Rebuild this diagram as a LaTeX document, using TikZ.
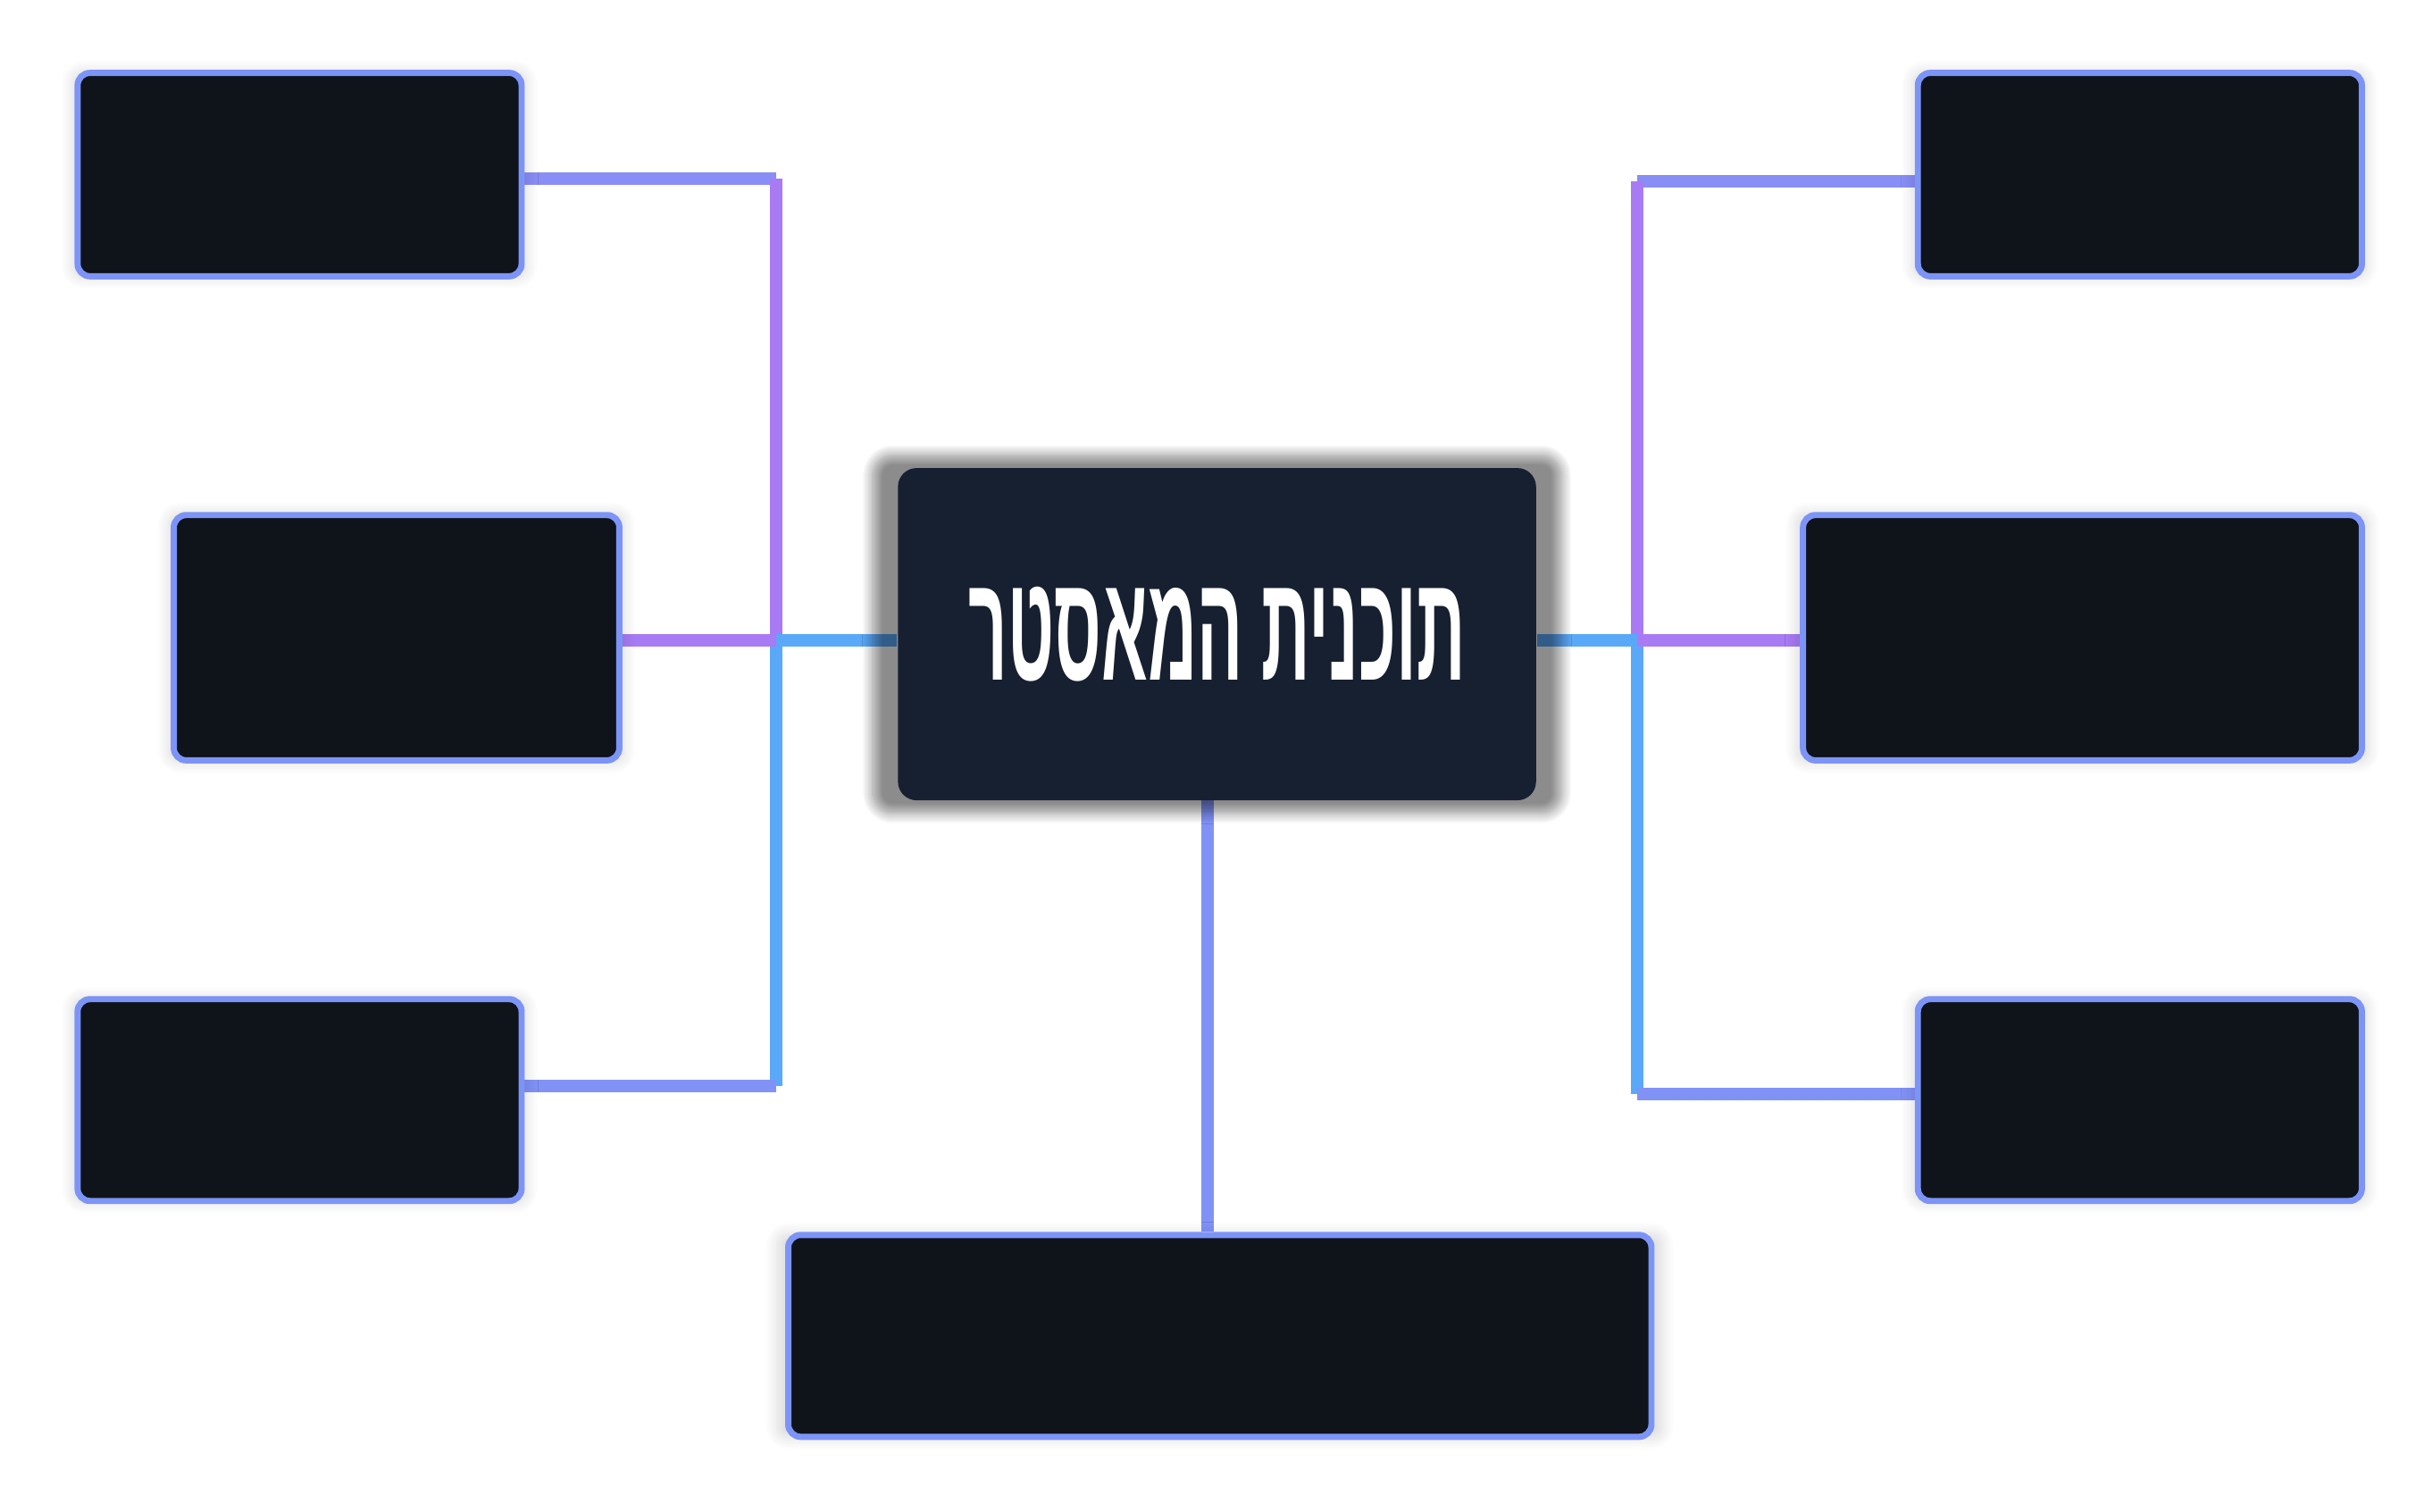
\documentclass[tikz,border=0pt]{standalone}
\usepackage{fontspec}
\usepackage{graphicx}
\usetikzlibrary{positioning,shadows.blur,backgrounds}
\TeXXeTstate=1
\newfontfamily\hebfont[Script=Hebrew]{Liberation Sans}
\definecolor{lilac}{HTML}{A87BF5}
\definecolor{sky}{HTML}{5AA8F8}
\definecolor{boxfill}{HTML}{0F131A}
\definecolor{hubfill}{HTML}{172030}
\newcommand{\wire}{0.08cm}

\begin{document}
\begin{tikzpicture}[x=0.01cm,y=-0.01cm,
    leaf/.style={draw=sky!55!lilac, line width=0.4mm, fill=boxfill, rounded corners=0.8mm, anchor=north west,
        blur shadow={shadow blur steps=8, shadow xshift=0pt, shadow yshift=0pt, shadow scale=1.03, shadow opacity=12}},
    hub/.style={fill=hubfill, rounded corners=1.2mm, anchor=north west,
        blur shadow={shadow blur steps=12, shadow xshift=0pt, shadow yshift=0pt, shadow scale=1.08, shadow opacity=45}},
    link/.style={line width=\wire}]
    \useasboundingbox (0,0) rectangle (1568,974);
    % leaves
    \node[leaf, minimum width=2.86cm, minimum height=1.31cm] (l1) at (48,45) {};
    \node[leaf, minimum width=2.87cm, minimum height=1.58cm] (l2) at (110,330) {};
    \node[leaf, minimum width=2.86cm, minimum height=1.30cm] (l3) at (48,642) {};
    \node[leaf, minimum width=2.86cm, minimum height=1.31cm] (r1) at (1234,45) {};
    \node[leaf, minimum width=3.60cm, minimum height=1.58cm] (r2) at (1160,330) {};
    \node[leaf, minimum width=2.86cm, minimum height=1.30cm] (r3) at (1234,642) {};
    \node[leaf, minimum width=5.56cm, minimum height=1.30cm] (bt) at (506,794) {};
    % hub
    \node[hub, minimum width=4.11cm, minimum height=2.14cm] (hb) at (578,301) {};
    \node[text=white] (ttl) at (hb.center) {\resizebox{3.2cm}{0.6cm}{\hebfont\bfseries\beginR תוכנית המאסטר\endR}};
    % wires
    \coordinate (ja) at (500,115);
    \coordinate (jb) at (500,413);
    \coordinate (jc) at (500,700);
    \coordinate (ka) at (1055,117);
    \coordinate (kb) at (1055,413);
    \coordinate (kc) at (1055,705);
    \coordinate (ma) at (778,515);
    \coordinate (mb) at (778,794);
    \begin{scope}[on background layer]
        \draw[link, sky!40!lilac] (l1.east |- ja) -- (ja);
        \draw[link, lilac] (ja) -- (jb);
        \draw[link, sky] (jb) -- (jc);
        \draw[link, sky!50!lilac] (jc) -- (l3.east |- jc);
        \draw[link, lilac] (l2.east |- jb) -- (jb);
        \draw[link, sky] (jb) -- (hb.west |- jb);
        \draw[link, sky!40!lilac] (r1.west |- ka) -- (ka);
        \draw[link, lilac] (ka) -- (kb);
        \draw[link, sky] (kb) -- (kc);
        \draw[link, sky!50!lilac] (kc) -- (r3.west |- kc);
        \draw[link, sky] (hb.east |- kb) -- (kb);
        \draw[link, lilac] (kb) -- (r2.west |- kb);
        \draw[link, sky!50!lilac] (ma) -- (mb);
    \end{scope}
\end{tikzpicture}
\end{document}
